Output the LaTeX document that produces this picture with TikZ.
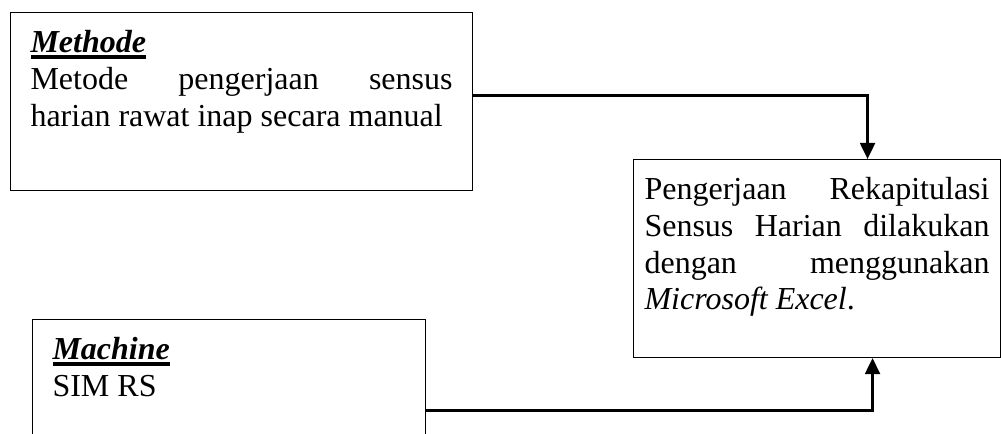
\documentclass[tikz,border=0pt]{standalone}
\usepackage{fontspec}
\setmainfont{Liberation Serif}
\usetikzlibrary{arrows.meta}

\hyphenpenalty = 10000
\tolerance = 9999
\hbadness = 10000

\newsavebox{\titlebox}
\newcommand{\causetitle}[1]{\sbox{\titlebox}{\textbf{\textit{#1}}}\rlap{\rule[-2.6pt]{\wd\titlebox}{1.5pt}}\usebox{\titlebox}}

\tikzset{
	causepicture/.style = {
		x = 0.375pt,
		y = -0.375pt,
		font = \fontsize{12pt}{13.8pt}\selectfont,
		arrow/.style = {
			draw,
			-{Triangle[width=5.6pt, length=6pt]},
			line width = 0.85pt,
		}
	},
	causenode/.style = {
		draw = black,
		line width = 0.4pt,
		anchor = north west,
		align = justify,
		inner xsep = 7.5pt,
		inner ysep = 0pt,
		text height = 15pt,
		text depth = 51.75pt
	},
	effectnode/.style = {
		causenode,
		inner xsep = 4.125pt,
		text width = 129.375pt,
		text depth = 59.25pt
	}
}

\begin{document}
\begin{tikzpicture}[causepicture]
	\useasboundingbox (0,0) rectangle (1001,434);

	\node[causenode, text width = 158.25pt] (methode) at (10,12)
		{\causetitle{Methode}\\ Metode pengerjaan sensus\linebreak harian rawat inap secara manual};
	\node[causenode, text width = 132.375pt] (machine) at (32,319)
		{\causetitle{Machine}\\ SIM RS};

	\node[effectnode] (result) at (633,159)
		{\leftskip = 3.375pt\relax Pengerjaan Rekapitulasi Sensus Harian dilakukan dengan menggunakan \textit{Microsoft Excel}.};

	\begin{scope}[every path/.style = arrow]
		\path ([yshift = 2.25pt]methode.east) -| ([xshift = 18.94pt]result.north);
		\path ([yshift = -0.75pt]machine.east) -| ([xshift = 20.81pt]result.south);
	\end{scope}
\end{tikzpicture}
\end{document}
